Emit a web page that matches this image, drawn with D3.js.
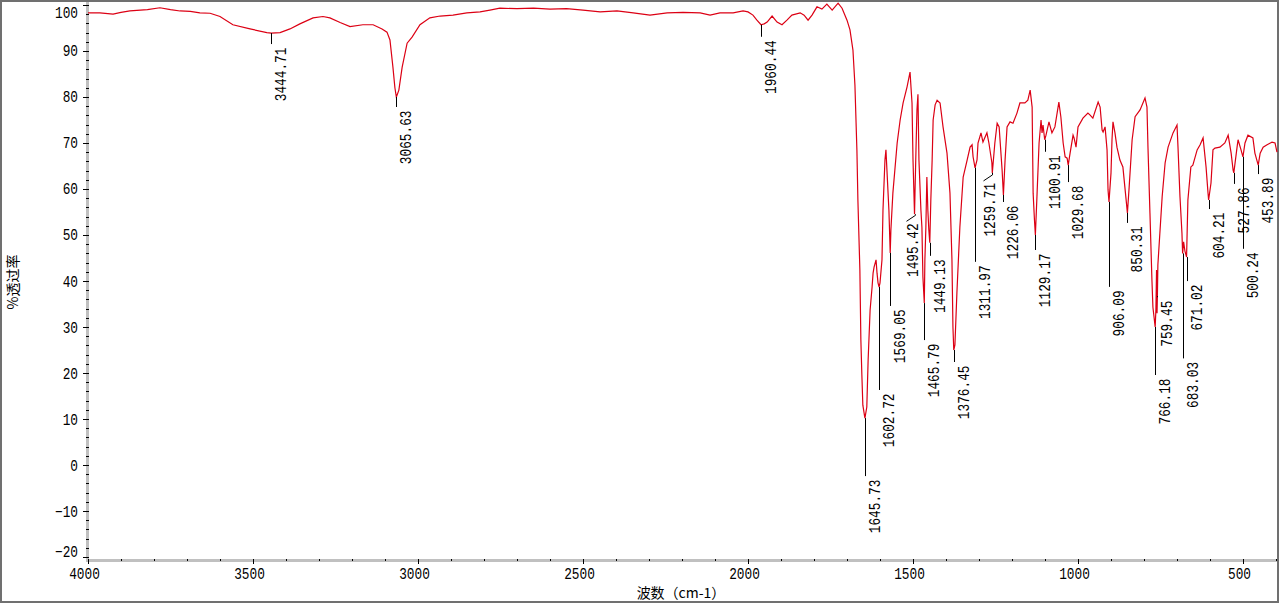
<!DOCTYPE html>
<html>
<head>
<meta charset="utf-8">
<script src="https://cdn.jsdelivr.net/npm/d3@7"></script>
<style>
  html, body { margin: 0; padding: 0; background: #fff; }
  svg { display: block; }
  .num { font-family: "Liberation Mono", "DejaVu Sans Mono", monospace; font-size: 16px; fill: #000; }
  .cjk { font-family: "Noto Sans CJK SC", sans-serif; font-size: 14px; fill: #000; }
</style>
</head>
<body>
<svg id="chart" width="1280" height="604"></svg>
<script>
// spectrum (wavenumber cm-1, %T)
const wavenumber = [
  4000, 3964, 3924, 3900, 3873, 3820, 3782, 3750, 3721, 3690, 3661, 3630, 3600, 3561, 3509, 3458,
  3444.71, 3418, 3388, 3358, 3318, 3288, 3267, 3236, 3206, 3167, 3136, 3109, 3094, 3085, 3076, 3070,
  3065.63, 3058, 3048, 3033, 3018, 2994, 2964, 2933, 2894, 2852, 2812, 2782, 2752, 2700, 2650, 2600,
  2550, 2500, 2448, 2397, 2348, 2297, 2245, 2197, 2145, 2115, 2085, 2045, 2015, 2000, 1985, 1973,
  1960.44, 1951, 1942, 1927, 1912, 1897, 1882, 1867, 1842, 1830, 1818, 1806, 1791, 1776, 1761, 1745,
  1727, 1715, 1700, 1691, 1682, 1676, 1670, 1667, 1661, 1658, 1655, 1652, 1645.73, 1640, 1636, 1630,
  1624, 1621, 1618, 1612, 1609, 1606, 1602.72, 1600, 1594, 1591, 1585, 1582, 1579, 1573, 1569.05, 1567,
  1561, 1548, 1539, 1530, 1518, 1509, 1503, 1500, 1495.42, 1494, 1491, 1488, 1485, 1482, 1476, 1473,
  1470, 1465.79, 1464, 1461, 1458, 1455, 1452, 1449.13, 1446, 1442, 1439, 1433, 1427, 1418, 1409, 1397,
  1388, 1382, 1379, 1376.45, 1373, 1367, 1358, 1348, 1336, 1327, 1321, 1318, 1311.97, 1306, 1303, 1294,
  1288, 1276, 1270, 1261, 1259.71, 1252, 1245, 1239, 1230, 1226.06, 1221, 1215, 1206, 1197, 1185, 1176,
  1161, 1152, 1145, 1139, 1136, 1132, 1129.17, 1124, 1118, 1112, 1109, 1106, 1100.91, 1097, 1088, 1079,
  1070, 1058, 1052, 1045, 1039, 1033, 1029.68, 1024, 1015, 1012, 1006, 1000, 985, 970, 964, 955,
  939, 933, 927, 924, 918, 912, 909, 906.09, 900, 897, 894, 888, 882, 873, 864, 858,
  850.31, 845, 836, 827, 812, 797, 791, 788, 782, 776, 773, 766.18, 764, 762, 760.5, 759.45,
  758, 745, 736, 727, 712, 700, 697, 691, 685, 683.03, 680, 676, 671.02, 667, 658, 652,
  639, 630, 621, 612, 606, 604.21, 597, 591, 585, 570, 555, 545, 536, 530, 527.86, 518,
  515, 506, 500.24, 494, 485, 470, 464, 453.89, 448, 439, 427, 412, 403, 397
];
const transmittance = [
  98.3, 98.3, 98.0, 98.4, 98.7, 99.0, 99.4, 99.0, 98.7, 98.6, 98.3, 98.2, 97.5, 95.7, 94.8, 94.0,
  93.9, 94.0, 94.8, 95.9, 97.2, 97.5, 97.2, 96.2, 95.3, 95.7, 95.7, 94.8, 94.1, 92.4, 86.5, 82.0,
  80.0, 81.5, 86.5, 91.7, 93.0, 95.7, 97.2, 97.6, 97.8, 98.3, 98.5, 98.9, 99.3, 99.2, 99.3, 99.1,
  99.2, 98.9, 98.5, 98.7, 98.3, 97.8, 98.3, 98.4, 98.3, 97.8, 98.3, 98.3, 98.7, 98.5, 97.8, 96.7,
  95.7, 95.9, 96.3, 97.6, 96.3, 95.7, 96.7, 97.8, 98.3, 97.8, 96.7, 97.8, 99.6, 99.1, 100.2, 98.9,
  100.4, 99.3, 96.7, 94.6, 90.2, 82.6, 68.5, 57.6, 42.4, 27.2, 19.6, 13.0, 10.2, 12.6, 22.8, 33.7,
  38.7, 41.7, 43.0, 44.6, 41.7, 39.6, 38.7, 39.6, 44.6, 55.4, 66.3, 68.5, 64.1, 55.4, 46.1, 51.1,
  59.1, 70.0, 75.0, 78.7, 82.2, 85.4, 78.7, 66.3, 54.5, 59.1, 68.5, 77.2, 80.6, 66.3, 55.4, 51.7,
  40.9, 35.2, 44.6, 51.7, 62.6, 55.4, 51.1, 48.3, 57.6, 66.3, 75.0, 78.3, 79.3, 78.7, 73.5, 67.8,
  59.1, 44.6, 30.0, 25.0, 26.1, 37.4, 51.7, 62.6, 66.3, 69.1, 69.6, 67.0, 64.6, 66.3, 70.0, 72.2,
  70.2, 72.2, 70.0, 65.7, 63.5, 70.0, 74.3, 73.5, 64.1, 58.7, 66.3, 73.5, 74.6, 74.3, 76.5, 78.7,
  78.7, 79.3, 81.5, 77.8, 59.1, 53.3, 50.0, 59.1, 70.0, 75.0, 72.2, 73.9, 70.7, 71.7, 74.6, 72.2,
  73.5, 78.9, 75.7, 70.0, 67.0, 66.7, 65.2, 67.8, 71.7, 71.1, 69.1, 73.5, 75.4, 76.5, 76.1, 75.4,
  78.9, 77.8, 72.8, 72.4, 73.5, 68.5, 59.8, 57.2, 63.5, 70.7, 74.6, 72.2, 69.1, 66.3, 64.8, 60.4,
  54.8, 60.4, 70.7, 75.7, 77.2, 79.8, 77.8, 69.1, 54.8, 40.2, 34.3, 30.0, 33.7, 42.4, 33.0, 36.7,
  43.5, 58.3, 65.7, 69.1, 72.2, 73.9, 69.1, 58.3, 50.4, 46.0, 48.5, 46.5, 45.2, 57.6, 64.8, 65.2,
  68.5, 69.6, 71.1, 64.8, 59.1, 57.6, 61.3, 68.5, 68.9, 69.1, 70.0, 71.7, 67.8, 64.1, 63.5, 69.1,
  70.7, 68.5, 67.0, 70.0, 71.7, 71.1, 67.8, 65.2, 67.8, 69.1, 69.6, 70.2, 70.0, 68.0
];

// labelled peaks
const peakWavenumber = [
  3444.71, 3065.63, 1960.44, 1645.73, 1602.72, 1569.05, 1495.42, 1465.79, 1449.13, 1376.45,
  1311.97, 1259.71, 1226.06, 1129.17, 1100.91, 1029.68, 906.09, 850.31, 766.18, 759.45,
  683.03, 671.02, 604.21, 527.86, 500.24, 453.89
];
// leader length (px) and sideways shift of crowded labels
const leaderLength = [11, 10, 12, 58, 103, 53, 1, 37, 13, 12, 94, 2, 7, 15, 12, 17, 85, 10, 48, 1, 105, 24, 9, 11, 92, 9];
const labelShift   = [0, 0, 0, 0, 0, 0, -12, 0, 0, 0, 0, -12, 0, 0, 0, 0, 0, 0, 0, 0, 0, 0, 0, 0, 0, 0];

const xMajorTicks = [4000, 3500, 3000, 2500, 2000, 1500, 1000, 500];
const yMajorTicks = [-20, -10, 0, 10, 20, 30, 40, 50, 60, 70, 80, 90, 100];

const svg = d3.select('#chart');
const plotLeft = 88, plotRight = 1277, plotTop = 2, plotBottom = 560;

const x = d3.scaleLinear().domain([4000, 397]).range([plotLeft, plotRight]);
const y = d3.scaleLinear().domain([-20.65, 100.65]).range([plotBottom, plotTop]);

// outer frame
svg.append('rect')
  .attr('x', 1).attr('y', 1)
  .attr('width', 1277).attr('height', 601)
  .attr('fill', 'none')
  .attr('stroke', '#707070')
  .attr('stroke-width', 2);

// gray axis bars
svg.append('rect').attr('x', 86).attr('y', plotTop).attr('width', 3).attr('height', plotBottom - plotTop + 2).attr('fill', '#c0c0c0');
svg.append('rect').attr('x', 86).attr('y', 559).attr('width', plotRight - 86).attr('height', 3).attr('fill', '#c0c0c0');

// y axis: minor every 2, major every 10
const yMinor = svg.append('g').attr('transform', 'translate(89,0)')
  .call(d3.axisLeft(y).tickValues(d3.range(-20, 101, 2)).tickSize(3).tickSizeOuter(0).tickFormat(''));
const yMajor = svg.append('g').attr('transform', 'translate(89,0)')
  .call(d3.axisLeft(y).tickValues(yMajorTicks).tickSize(6).tickSizeOuter(0).tickFormat(d3.format('d')));

// x axis: minor every 100, major every 500
const xMinor = svg.append('g').attr('transform', 'translate(0,559)')
  .call(d3.axisBottom(x).tickValues(d3.range(400, 4001, 100)).tickSize(2).tickSizeOuter(0).tickFormat(''));
const xMajor = svg.append('g').attr('transform', 'translate(0,559)')
  .call(d3.axisBottom(x).tickValues(xMajorTicks).tickSize(5).tickSizeOuter(0).tickFormat(d3.format('d')));

[yMinor, yMajor, xMinor, xMajor].forEach(g => {
  g.select('.domain').remove();
  g.selectAll('.tick line').attr('stroke', '#000').attr('shape-rendering', 'crispEdges');
});

yMajor.selectAll('.tick text')
  .attr('class', 'num')
  .attr('x', null).attr('dy', null)
  .attr('transform', d => {
    const c = Math.max(12, Math.min(551, y(d)));
    return `translate(-11,${c - y(d) + 5}) scale(0.8,1)`;
  })
  .attr('text-anchor', 'end');
yMajor.attr('font-family', null).attr('font-size', null);

xMajor.selectAll('.tick text')
  .attr('class', 'num')
  .attr('y', null).attr('dy', null)
  .attr('transform', 'translate(-4,20) scale(0.8,1)')
  .attr('text-anchor', 'middle');
xMajor.attr('font-family', null).attr('font-size', null);

// spectrum
const points = wavenumber.map((w, i) => [w, transmittance[i]]);
const line = d3.line().x(d => x(d[0])).y(d => y(d[1]));

svg.append('path')
  .datum(points)
  .attr('d', line)
  .attr('fill', 'none')
  .attr('stroke', '#dc0014')
  .attr('stroke-width', 1.2);

// peak labels
const peaks = peakWavenumber.map((w, i) => ({
  w: w,
  t: transmittance[wavenumber.indexOf(w)],
  len: leaderLength[i],
  shift: labelShift[i]
}));

const labels = svg.append('g');
peaks.forEach(p => {
  const px = Math.round(x(p.w)) + 0.5;
  const py = y(p.t);
  const yEnd = py + p.len;
  let path = `M${px},${py}V${yEnd}`;
  let tx = px + 14, ty = yEnd + 3.5;
  if (p.shift !== 0) {
    path += `L${px + p.shift + 3},${yEnd + 6}`;
    tx = px + p.shift + 14;
    ty = yEnd + 8;
  }
  labels.append('path')
    .attr('d', path)
    .attr('fill', 'none')
    .attr('stroke', '#000')
    .attr('stroke-width', 1);
  labels.append('text')
    .attr('class', 'num')
    .attr('text-anchor', 'end')
    .attr('transform', `translate(${tx},${ty}) rotate(-90) scale(0.8,1)`)
    .text(d3.format('.2f')(p.w));
});

// axis titles
svg.append('text')
  .attr('class', 'cjk')
  .attr('x', 681).attr('y', 598)
  .attr('text-anchor', 'middle')
  .text('波数（cm-1）');

svg.append('text')
  .attr('class', 'cjk')
  .attr('text-anchor', 'middle')
  .attr('transform', 'translate(18,282) rotate(-90)')
  .text('%透过率');
</script>
</body>
</html>
